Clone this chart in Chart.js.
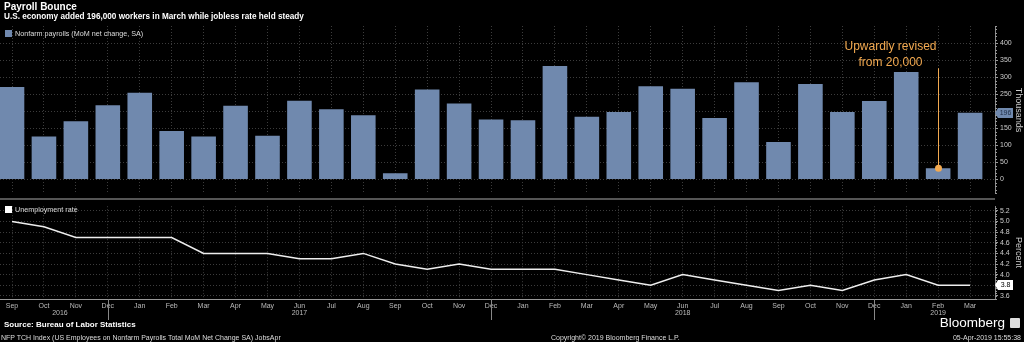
<!DOCTYPE html>
<html>
<head>
<meta charset="utf-8">
<script src="https://cdn.jsdelivr.net/npm/chart.js@4.4.1/dist/chart.umd.min.js"></script>
<style>
  html, body { margin: 0; padding: 0; background: #000; }
  body { width: 1024px; height: 342px; position: relative; overflow: hidden;
         font-family: "Liberation Sans", Arial, sans-serif; color: #fff; }
  canvas { position: absolute; left: 0; }
  #payChart { top: 0; }
  #rateChart { top: 200px; }
  .t { position: absolute; white-space: nowrap; line-height: 1; }
  #title { left: 4px; top: 2px; font-size: 10px; font-weight: bold; }
  #subtitle { left: 4px; top: 13px; font-size: 8.2px; font-weight: bold; }
  .legend { font-size: 7.2px; color: #ddd; }
  .legend i { display: inline-block; width: 7px; height: 7px; margin-right: 3px; vertical-align: -1px; }
  #payLegend { left: 5px; top: 30px; }
  #payLegend i { background: #7089ae; }
  #rateLegend { left: 5px; top: 206px; }
  #rateLegend i { background: #fff; }
  #divider { position: absolute; left: 0; top: 198px; width: 995px; height: 2px; background: #555; }
  #source { left: 4px; top: 321px; font-size: 8px; font-weight: bold; }
  #ticker { left: 1px; top: 334px; font-size: 7px; color: #ddd; }
  #copyright { left: 551px; top: 334px; font-size: 7px; color: #ddd; }
  #stamp { right: 3px; top: 334px; font-size: 7px; color: #ddd; }
  #brand { right: 19px; top: 316px; font-size: 13.5px; color: #fff; }
  #brandBox { position: absolute; left: 1010px; top: 318px; width: 10px; height: 10px; background: #ddd; border-radius: 1px; }
</style>
</head>
<body>
<canvas id="payChart" width="1024" height="200"></canvas>
<canvas id="rateChart" width="1024" height="142"></canvas>
<div id="divider"></div>

<div class="t" id="title">Payroll Bounce</div>
<div class="t" id="subtitle">U.S. economy added 196,000 workers in March while jobless rate held steady</div>
<div class="t legend" id="payLegend"><i></i>Nonfarm payrolls (MoM net change, SA)</div>
<div class="t legend" id="rateLegend"><i></i>Unemployment rate</div>
<div class="t" id="source">Source: Bureau of Labor Statistics</div>
<div class="t" id="ticker">NFP TCH Index (US Employees on Nonfarm Payrolls Total MoM Net Change SA) JobsApr</div>
<div class="t" id="copyright">Copyright© 2019 Bloomberg Finance L.P.</div>
<div class="t" id="brand">Bloomberg</div>
<div id="brandBox"></div>
<div class="t" id="stamp">05-Apr-2019 15:55:38</div>

<script>
// Sep 2016 .. Mar 2019
const months = ["Sep", "Oct", "Nov", "Dec", "Jan", "Feb", "Mar", "Apr", "May", "Jun", "Jul", "Aug",
                "Sep", "Oct", "Nov", "Dec", "Jan", "Feb", "Mar", "Apr", "May", "Jun", "Jul", "Aug",
                "Sep", "Oct", "Nov", "Dec", "Jan", "Feb", "Mar"];
const yearLabels = ["2016", "2017", "2018", "2019"];
const yearAt = [1.5, 9, 21, 29];

// thousands, MoM net change
const payrolls = [271, 126, 171, 218, 254, 142, 126, 216, 128, 231, 206, 188,
                  18, 264, 223, 176, 174, 333, 184, 198, 273, 266, 180, 285,
                  110, 280, 198, 230, 315, 33, 196];
// percent
const rate = [5.0, 4.9, 4.7, 4.7, 4.7, 4.7, 4.4, 4.4, 4.4, 4.3, 4.3, 4.4,
              4.2, 4.1, 4.2, 4.1, 4.1, 4.1, 4.0, 3.9, 3.8, 4.0, 3.9, 3.8,
              3.7, 3.8, 3.7, 3.9, 4.0, 3.8, 3.8];

const payTicks = [0, 50, 100, 150, 200, 250, 300, 350, 400];
const rateTicks = [3.6, 3.8, 4.0, 4.2, 4.4, 4.6, 4.8, 5.0, 5.2];

const revisionIndex = 29;
const revisionNote = ["Upwardly revised", "from 20,000"];

const barColor = "#7089ae";
const gridColor = "#3c3c3c";
const font = "Liberation Sans";

// shared x range so both panels line up
const xMin = -0.376, xMax = 30.78;

const minorTicks = {
  id: "minorTicks",
  afterDraw(chart, args, opts) {
    const y = chart.scales.y, ctx = chart.ctx;
    ctx.save();
    ctx.strokeStyle = "#999";
    ctx.lineWidth = 1;
    const n = Math.ceil(y.min / opts.step);
    for (let k = n; k * opts.step <= y.max; k++) {
      const py = Math.round(y.getPixelForValue(k * opts.step)) + 0.5;
      ctx.beginPath();
      ctx.moveTo(y.left, py);
      ctx.lineTo(y.left + 2, py);
      ctx.stroke();
    }
    ctx.restore();
  }
};

const lastTag = {
  id: "lastTag",
  afterDraw(chart, args, opts) {
    const y = chart.scales.y, ctx = chart.ctx;
    const data = chart.data.datasets[0].data;
    const v = data[data.length - 1].y;
    const py = Math.round(y.getPixelForValue(v));
    const x0 = y.left + 3, w = 15, h = 10;
    ctx.save();
    ctx.fillStyle = opts.fill;
    ctx.beginPath();
    ctx.moveTo(y.left, py);
    ctx.lineTo(x0, py - h / 2);
    ctx.lineTo(x0 + w, py - h / 2);
    ctx.lineTo(x0 + w, py + h / 2);
    ctx.lineTo(x0, py + h / 2);
    ctx.closePath();
    ctx.fill();
    ctx.fillStyle = opts.color;
    ctx.font = "7px '" + font + "'";
    ctx.textAlign = "center";
    ctx.textBaseline = "middle";
    ctx.fillText(opts.format(v), x0 + w / 2, py + 0.5);
    ctx.restore();
  }
};

const revision = {
  id: "revision",
  afterDatasetsDraw(chart, args, opts) {
    const x = chart.scales.x, y = chart.scales.y, ctx = chart.ctx;
    const px = Math.round(x.getPixelForValue(revisionIndex)) + 0.5;
    const py = y.getPixelForValue(payrolls[revisionIndex]);
    const top = y.getPixelForValue(opts.lineTop);
    ctx.save();
    ctx.strokeStyle = opts.color;
    ctx.lineWidth = 1;
    ctx.beginPath();
    ctx.moveTo(px, py);
    ctx.lineTo(px, top);
    ctx.stroke();
    ctx.fillStyle = opts.color;
    ctx.beginPath();
    ctx.arc(px, py, 3.5, 0, Math.PI * 2);
    ctx.fill();
    ctx.font = "12px '" + font + "'";
    ctx.textAlign = "center";
    ctx.textBaseline = "middle";
    revisionNote.forEach((line, k) => ctx.fillText(line, px - 48, 47 + k * 16));
    ctx.restore();
  }
};

const yearAxis = {
  id: "yearAxis",
  afterDraw(chart) {
    const x = chart.scales.x, ctx = chart.ctx;
    ctx.save();
    ctx.fillStyle = "#bbb";
    ctx.font = "7px '" + font + "'";
    ctx.textAlign = "center";
    ctx.textBaseline = "middle";
    yearLabels.forEach((yr, k) => ctx.fillText(yr, x.getPixelForValue(yearAt[k]), x.top + 14));
    ctx.strokeStyle = "#888";
    ctx.lineWidth = 1;
    months.forEach((m, i) => {
      if (m !== "Dec") return;
      const px = Math.round(x.getPixelForValue(i)) + 0.5;
      ctx.beginPath();
      ctx.moveTo(px, x.top);
      ctx.lineTo(px, x.top + 21);
      ctx.stroke();
    });
    ctx.restore();
  }
};

function xAxis(showLabels) {
  return {
    type: "linear",
    offset: false,
    min: xMin,
    max: xMax,
    afterBuildTicks: s => { s.ticks = months.map((m, i) => ({ value: i })); },
    afterFit: s => { s.height = showLabels ? 43 : 0; },
    grid: { color: gridColor, drawTicks: false, offset: false },
    border: { display: showLabels, color: "#999", dash: [1, 2] },
    ticks: {
      display: showLabels,
      autoSkip: false,
      maxRotation: 0,
      padding: 3,
      color: "#bbb",
      font: { family: font, size: 7 },
      callback: v => months[v]
    }
  };
}

function yAxis(min, max, tickList, label, fmt) {
  return {
    position: "right",
    min: min,
    max: max,
    afterBuildTicks: s => { s.ticks = tickList.map(v => ({ value: v })); },
    afterFit: s => { s.width = 29; },
    grid: { color: gridColor, tickLength: 3, tickColor: "#999", tickBorderDash: [] },
    border: { display: true, color: "#888", dash: [1, 2] },
    ticks: { color: "#ccc", padding: 2, font: { family: font, size: 7 }, callback: fmt },
    title: { display: true, text: label, color: "#ccc", padding: 0, font: { family: font, size: 9 } }
  };
}

new Chart(document.getElementById("payChart").getContext("2d"), {
  type: "bar",
  data: {
    datasets: [{
      label: "Nonfarm payrolls (MoM net change, SA)",
      data: payrolls.map((v, i) => ({ x: i, y: v })),
      backgroundColor: barColor,
      borderWidth: 0,
      barPercentage: 0.77,
      categoryPercentage: 1
    }]
  },
  options: {
    responsive: false,
    animation: false,
    layout: { padding: { top: 26, bottom: 2, left: 0, right: 0 } },
    plugins: {
      legend: { display: false },
      tooltip: { enabled: false },
      minorTicks: { step: 10 },
      lastTag: { fill: barColor, color: "#1d2c44", format: v => String(v) },
      revision: { color: "#f2a950", lineTop: 326 }
    },
    scales: {
      x: xAxis(false),
      y: yAxis(-42, 450, payTicks, "Thousands", v => String(v))
    }
  },
  plugins: [minorTicks, lastTag, revision]
});

new Chart(document.getElementById("rateChart").getContext("2d"), {
  type: "line",
  data: {
    datasets: [{
      label: "Unemployment rate",
      data: rate.map((v, i) => ({ x: i, y: v })),
      borderColor: "#eeeeee",
      borderWidth: 1.5,
      pointRadius: 0,
      tension: 0
    }]
  },
  options: {
    responsive: false,
    animation: false,
    layout: { padding: { top: 1, bottom: 0, left: 0, right: 0 } },
    plugins: {
      legend: { display: false },
      tooltip: { enabled: false },
      minorTicks: { step: 0.05 },
      lastTag: { fill: "#ffffff", color: "#000", format: v => v.toFixed(1) }
    },
    scales: {
      x: xAxis(true),
      y: yAxis(3.541, 5.289, rateTicks, "Percent", v => v.toFixed(1))
    }
  },
  plugins: [minorTicks, lastTag, yearAxis]
});
</script>
</body>
</html>
